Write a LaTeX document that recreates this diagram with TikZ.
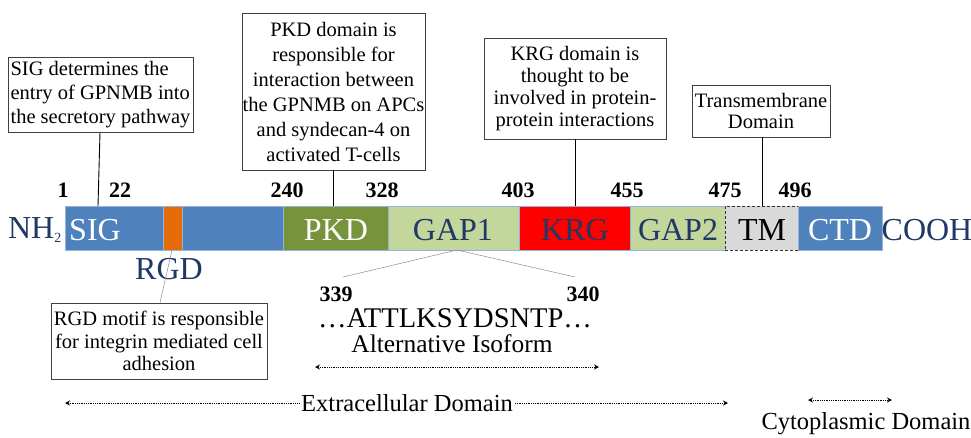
\documentclass[tikz,border=0pt]{standalone}
\usepackage{fontspec}
\setmainfont{Liberation Serif}
\usetikzlibrary{arrows.meta}
\definecolor{segblue}{HTML}{4F81BD}
\definecolor{segorange}{HTML}{E36C09}
\definecolor{segpkd}{HTML}{77933C}
\definecolor{seggap}{HTML}{C3D69B}
\definecolor{segred}{HTML}{FF0000}
\definecolor{seggray}{HTML}{D9D9D9}
\definecolor{navy}{HTML}{1F3864}
\definecolor{edgeblue}{HTML}{95B3D7}
\tikzset{
  seg/.style={draw=edgeblue, line width=0.6pt, minimum height=44pt, inner sep=0pt, anchor=west},
  seglabel/.style={font=\fontsize{32}{33}\selectfont, inner sep=0pt},
  resnum/.style={font=\fontsize{22}{24}\selectfont\bfseries, inner sep=0pt},
  callout/.style={draw=black!75, line width=0.7pt, align=center, inner sep=0pt},
  leader/.style={line width=0.9pt, black},
  thinlead/.style={line width=0.5pt, black!45},
  dotline/.style={densely dotted, line width=0.8pt},
  tipL/.style={{Stealth[length=5pt,width=5pt,open]}-},
  tipR/.style={-{Stealth[length=5pt,width=5pt,open]}},
  tipLR/.style={{Stealth[length=5pt,width=5pt,open]}-{Stealth[length=5pt,width=5pt,open]}},
  bigtext/.style={font=\fontsize{24.5}{26}\selectfont, inner sep=0pt},
}
\begin{document}
\begin{tikzpicture}[x=1pt,y=-1pt]
\useasboundingbox (0,0) rectangle (971,437);

% protein bar
\node[seg, fill=segblue,   minimum width=98pt]  (sig)  at (65,228)  {};
\node[seg, fill=segorange, minimum width=19pt]  (rgd)  at (163,228) {};
\node[seg, fill=segblue,   minimum width=101pt] (mid)  at (182,228) {};
\node[seg, fill=segpkd,    minimum width=105pt] (pkd)  at (283,228) {};
\node[seg, fill=seggap,    minimum width=131pt] (gap1) at (388,228) {};
\node[seg, fill=segred,    minimum width=111pt] (krg)  at (519,228) {};
\node[seg, fill=seggap,    minimum width=95pt]  (gap2) at (630,228) {};
\node[seg, fill=seggray, draw=black!80, densely dashed, minimum width=73pt] (tm) at (725,228) {};
\node[seg, fill=segblue,   minimum width=84pt]  (ctd)  at (798,228) {};

% domain labels
\node[seglabel, text=navy]  (nh2)  at (35,230)  {NH\textsubscript{\fontsize{14}{14}\selectfont 2}};
\node[seglabel, text=white] (sigt) at (95,230)  {SIG};
\node[seglabel, text=white] (pkdt) at (336,230) {PKD};
\node[seglabel, text=navy]  (g1t)  at (453,230) {GAP1};
\node[seglabel, text=navy]  (krgt) at (575,230) {KRG};
\node[seglabel, text=navy]  (g2t)  at (678,230) {GAP2};
\node[seglabel, text=black] (tmt)  at (762,230) {TM};
\node[seglabel, text=white] (ctdt) at (840,230) {CTD};
\node[seglabel, text=navy]  (cooh) at (927,230) {COOH};
\node[seglabel, text=navy]  (rgdt) at (169,269) {RGD};

% residue numbers
\node[resnum] (n1)   at (63,190)  {1};
\node[resnum] (n22)  at (120,190) {22};
\node[resnum] (n240) at (287,190) {240};
\node[resnum] (n328) at (382,190) {328};
\node[resnum] (n403) at (518,190) {403};
\node[resnum] (n455) at (627,190) {455};
\node[resnum] (n475) at (725,190) {475};
\node[resnum] (n496) at (795,190) {496};

% callout boxes
\node[callout, align=left, minimum width=185pt, minimum height=75pt,
      font=\fontsize{20.5}{23.7}\selectfont] (csig) at (100.5,94.5)
  {SIG determines the\\entry of GPNMB into\\the secretory pathway};
\node[callout, minimum width=183pt, minimum height=157pt,
      font=\fontsize{20.5}{25}\selectfont] (cpkd) at (333.5,91.5)
  {PKD domain is\\responsible for\\interaction between\\the GPNMB on APCs\\and syndecan-4 on\\activated T-cells};
\node[callout, minimum width=182pt, minimum height=101pt,
      font=\fontsize{20.5}{21.8}\selectfont] (ckrg) at (575,88.5)
  {KRG domain is\\thought to be\\involved in protein-\\protein interactions};
\node[callout, minimum width=138pt, minimum height=52pt,
      font=\fontsize{20.5}{21.8}\selectfont] (ctm) at (761,111)
  {Transmembrane\\Domain};
\node[callout, minimum width=216pt, minimum height=76pt,
      font=\fontsize{20.5}{22.5}\selectfont] (crgd) at (159,341)
  {RGD motif is responsible\\for integrin mediated cell\\adhesion};

% leaders from boxes to the bar
\coordinate (sigtop) at (98,206);
\coordinate (sigbot) at (100,0);
\draw[leader] (csig.south -| sigbot) -- (sigtop);
\draw[leader] (cpkd.south -| 333,0) -- (333,206);
\draw[leader] (ckrg.south -| 575,0) -- (575,206);
\draw[leader] (ctm.south -| 762,0) -- (762,206);
\coordinate (rgdfoot) at (172,250);
\draw[thinlead] (rgdfoot) -- (crgd.north -| 160,0);

% isoform insertion
\coordinate (gapfoot) at (457,250);
\coordinate (isoL) at (343,277);
\coordinate (isoR) at (575,277);
\draw[thinlead] (isoL) -- (gapfoot) -- (isoR);
\node[resnum] (n339) at (336,294) {339};
\node[resnum] (n340) at (583,294) {340};
\node[font=\fontsize{28.5}{30}\selectfont, inner sep=0pt] (seq) at (455,318) {\dots ATTLKSYDSNTP\dots};
\node[font=\fontsize{25.4}{27}\selectfont, inner sep=0pt] (alt) at (452,344) {Alternative Isoform};
\coordinate (altL) at (315,367);
\coordinate (altR) at (599,367);
\draw[dotline, tipLR] (altL) -- (altR);

% membrane topology
\node[bigtext, inner sep=2pt] (extra) at (407,403) {Extracellular Domain};
\coordinate (exL) at (65,403);
\coordinate (exR) at (728,403);
\draw[dotline, tipL] (exL) -- (extra.west);
\draw[dotline, tipR] (extra.east) -- (exR);
\coordinate (cyL) at (808,400);
\coordinate (cyR) at (892,400);
\draw[dotline, tipLR] (cyL) -- (cyR);
\node[bigtext] (cyto) at (866,424) {Cytoplasmic Domain};
\end{tikzpicture}
\end{document}
